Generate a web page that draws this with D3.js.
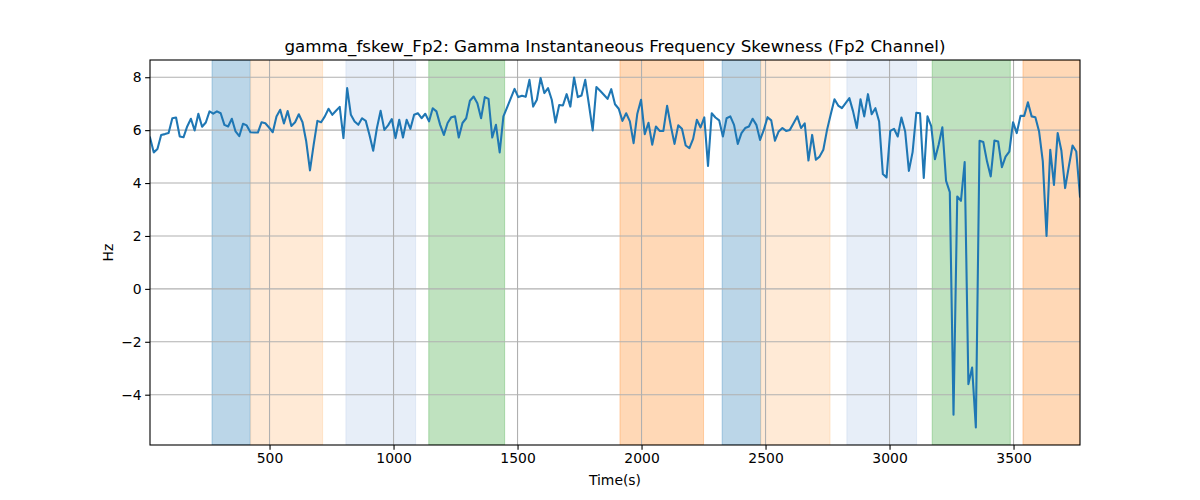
<!DOCTYPE html>
<html>
<head>
<meta charset="utf-8">
<script src="https://cdn.jsdelivr.net/npm/d3@7"></script>
<style>
  html, body { margin: 0; padding: 0; background: #fff; }
  svg { display: block; font-family: "DejaVu Sans", sans-serif; }
</style>
</head>
<body>
<svg id="chart" width="1200" height="500"></svg>
<script>
// ---- data ----
const title = "gamma_fskew_Fp2: Gamma Instantaneous Frequency Skewness (Fp2 Channel)";
const xLabel = "Time(s)";
const yLabel = "Hz";
const timeStart = 18;   // first sample time (s)
const timeStep = 15;    // sampling step (s)
const values = [
  5.72, 5.16, 5.29, 5.82, 5.85, 5.89, 6.45, 6.48, 5.76, 5.73,
  6.14, 6.43, 5.99, 6.62, 6.13, 6.29, 6.71, 6.62, 6.71, 6.64,
  6.20, 6.14, 6.43, 5.95, 5.77, 6.24, 6.18, 5.92, 5.91, 5.91,
  6.30, 6.26, 6.10, 5.92, 6.52, 6.77, 6.25, 6.72, 6.16, 6.30,
  6.60, 6.30, 5.57, 4.48, 5.45, 6.35, 6.30, 6.52, 6.81, 6.58,
  6.73, 6.88, 5.70, 7.59, 6.58, 6.33, 6.20, 6.45, 6.35, 5.82,
  5.22, 6.08, 6.73, 6.01, 6.18, 6.42, 5.70, 6.39, 5.72, 6.39,
  6.05, 6.58, 6.64, 6.45, 6.62, 6.33, 6.83, 6.71, 6.20, 5.82,
  6.27, 6.49, 6.52, 5.72, 6.27, 6.45, 7.11, 7.27, 7.02, 6.45,
  7.25, 7.18, 5.72, 6.20, 5.16, 6.52, 6.86, 7.21, 7.56, 7.25,
  7.30, 7.26, 7.90, 6.89, 7.15, 7.97, 7.40, 7.59, 7.15, 6.29,
  6.95, 6.93, 7.36, 6.89, 7.99, 7.25, 7.31, 7.90, 6.96, 5.99,
  7.63, 7.49, 7.34, 7.18, 7.55, 6.98, 6.81, 6.35, 6.64, 6.33,
  5.51, 6.62, 7.15, 5.85, 6.28, 5.45, 6.14, 5.97, 5.97, 6.92,
  6.16, 5.48, 6.18, 6.05, 5.42, 5.32, 5.67, 6.39, 6.10, 6.48,
  4.65, 6.64, 6.48, 6.37, 5.76, 6.45, 6.52, 6.20, 5.48, 5.89,
  6.08, 6.14, 6.43, 6.20, 5.63, 6.01, 6.49, 6.37, 5.60, 5.95,
  6.08, 5.97, 6.01, 6.26, 6.52, 6.08, 6.26, 4.85, 5.82, 4.88,
  5.00, 5.26, 6.01, 6.60, 7.17, 6.93, 6.83, 7.02, 7.21, 6.71,
  6.08, 7.17, 6.52, 7.36, 6.60, 6.83, 6.33, 4.34, 4.21, 5.97,
  6.05, 5.76, 6.48, 5.95, 4.46, 5.17, 6.66, 6.64, 4.19, 6.52,
  6.15, 4.90, 5.45, 6.11, 4.08, 3.66, -4.76, 3.49, 3.33, 4.79,
  -3.60, -2.97, -5.24, 5.60, 5.55, 4.82, 4.25, 5.61, 5.57, 4.60,
  5.00, 5.19, 6.30, 5.89, 6.54, 6.54, 7.05, 6.52, 6.49, 5.95,
  4.82, 2.00, 5.26, 3.93, 5.89, 5.22, 3.81, 4.63, 5.42, 5.19,
  3.49
];
const bandStarts = [268, 424, 808, 1142, 1913, 2325, 2481, 2828, 3172, 3538];
const bandEnds   = [422, 714, 1089, 1448, 2250, 2480, 2760, 3109, 3487, 3768];
const bandColors = ["#1f77b4", "#ffbb78", "#aec7e8", "#2ca02c", "#ff7f0e",
                    "#1f77b4", "#ffbb78", "#aec7e8", "#2ca02c", "#ff7f0e"];
const xTicks = [500, 1000, 1500, 2000, 2500, 3000, 3500];
const yTicks = [-4, -2, 0, 2, 4, 6, 8];

// ---- layout ----
const W = 1200, H = 500;
const mLeft = 150, mRight = 1080, mTop = 60, mBottom = 445;

const times = values.map((_, i) => timeStart + i * timeStep);
const points = values.map((v, i) => ({ t: times[i], v }));

const svg = d3.select("#chart");

const x = d3.scaleLinear()
  .domain([times[0], times[times.length - 1]])
  .range([mLeft, mRight]);

const [vmin, vmax] = d3.extent(values);
const pad = (vmax - vmin) * 0.05;
const y = d3.scaleLinear()
  .domain([vmin - pad, vmax + pad])
  .range([mBottom, mTop]);

svg.append("defs").append("clipPath").attr("id", "clip")
  .append("rect").attr("x", mLeft).attr("y", mTop)
  .attr("width", mRight - mLeft).attr("height", mBottom - mTop);

// bands
const bands = bandStarts.map((s, i) => ({ s, e: bandEnds[i], c: bandColors[i] }));
svg.append("g").attr("clip-path", "url(#clip)")
  .selectAll("rect").data(bands).enter().append("rect")
  .attr("x", d => x(d.s))
  .attr("y", mTop)
  .attr("width", d => x(d.e) - x(d.s))
  .attr("height", mBottom - mTop)
  .attr("fill", d => d.c)
  .attr("fill-opacity", 0.3)
  .attr("stroke", d => d.c)
  .attr("stroke-opacity", 0.3)
  .attr("stroke-width", 1);

// grid
const grid = svg.append("g");
grid.selectAll(".gx").data(xTicks).enter().append("line")
  .attr("x1", d => x(d)).attr("x2", d => x(d))
  .attr("y1", mTop).attr("y2", mBottom)
  .attr("stroke", "#b0b0b0").attr("stroke-width", 1.1);
grid.selectAll(".gy").data(yTicks).enter().append("line")
  .attr("x1", mLeft).attr("x2", mRight)
  .attr("y1", d => y(d)).attr("y2", d => y(d))
  .attr("stroke", "#b0b0b0").attr("stroke-width", 1.1);

// line
const line = d3.line().x(d => x(d.t)).y(d => y(d.v));
svg.append("path")
  .datum(points)
  .attr("clip-path", "url(#clip)")
  .attr("d", line)
  .attr("fill", "none")
  .attr("stroke", "#1f77b4")
  .attr("stroke-width", 2.08)
  .attr("stroke-linejoin", "round")
  .attr("stroke-linecap", "square");

// axes
const fmt = d3.format("d");
const xAxis = d3.axisBottom(x).tickValues(xTicks).tickSize(4.86).tickPadding(3.5).tickFormat(fmt);
const yAxis = d3.axisLeft(y).tickValues(yTicks).tickSize(4.86).tickPadding(3.5).tickFormat(d => (d < 0 ? "\u2212" + Math.abs(d) : String(d)));

const gx = svg.append("g").attr("transform", `translate(0,${mBottom})`).call(xAxis);
const gy = svg.append("g").attr("transform", `translate(${mLeft},0)`).call(yAxis);
[gx, gy].forEach(g => {
  g.select(".domain").remove();
  g.selectAll(".tick line").attr("stroke", "#000").attr("stroke-width", 1.1);
  g.selectAll(".tick text").attr("fill", "#000")
    .style("font-family", "DejaVu Sans").style("font-size", "13.9px");
});

// spines
svg.append("rect")
  .attr("x", mLeft).attr("y", mTop)
  .attr("width", mRight - mLeft).attr("height", mBottom - mTop)
  .attr("fill", "none").attr("stroke", "#000").attr("stroke-width", 1.1);

// title & labels
svg.append("text")
  .attr("x", (mLeft + mRight) / 2).attr("y", 52)
  .attr("text-anchor", "middle")
  .style("font-size", "16.7px")
  .attr("fill", "#000")
  .text(title);

svg.append("text")
  .attr("x", (mLeft + mRight) / 2).attr("y", 485)
  .attr("text-anchor", "middle")
  .style("font-size", "13.9px")
  .attr("fill", "#000")
  .text(xLabel);

svg.append("text")
  .attr("transform", `translate(113,${(mTop + mBottom) / 2}) rotate(-90)`)
  .attr("text-anchor", "middle")
  .style("font-size", "13.9px")
  .attr("fill", "#000")
  .text(yLabel);
</script>
</body>
</html>
